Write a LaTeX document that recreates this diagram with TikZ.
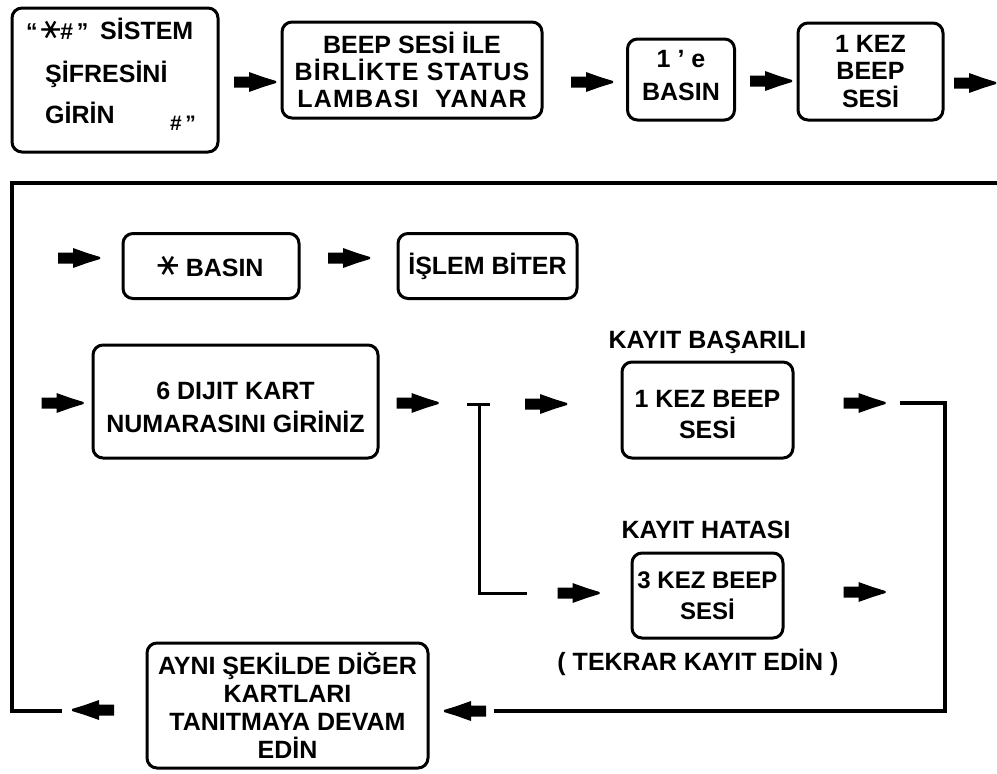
\documentclass[tikz,border=0pt]{standalone}
\usepackage{graphicx}
\usepackage{fontspec}
\setmainfont{Liberation Sans}
\newfontfamily\symfont{DejaVu Sans}
\newcommand{\astr}{{\symfont\mdseries\scalebox{1.3}{\rotatebox[origin=c]{90}{∗}}}}
\newcommand{\fs}[2]{\bfseries\fontsize{#1}{#2}\selectfont}
\newcommand{\hgt}[1]{\rule{0pt}{#1}}
\newcommand{\dpt}[1]{\rule[-#1]{0pt}{#1}}
\newcommand{\wide}{\addfontfeatures{LetterSpace=5}}
\tikzset{
  box/.style={draw, line width=3pt, rounded corners=10pt, inner sep=0pt, align=center, font=\fs{25}{27}},
  lbl/.style={inner sep=0pt, font=\fs{25}{27}},
  frameline/.style={line width=3.5pt, line cap=rect, line join=miter},
  brline/.style={line width=3pt},
  barrow/.pic={\fill (-21,-5.5) -- (-6,-5.5) -- (-6,-10) -- (8,-5) -- (21,-1) -- (21,1) -- (8,5) -- (-6,10) -- (-6,5.5) -- (-21,5.5) -- cycle;}
}
\begin{document}
\begin{tikzpicture}[x=1pt,y=-1pt]
\useasboundingbox[fill=white] (0,0) rectangle (997,774);

% row 1
\node[box, minimum width=206pt, minimum height=144pt] (A) at (115,80) {};
\node[lbl, anchor=base west, font=\fs{23}{23}] (a1) at (26,39) {“\,\astr\#\,”};
\node[lbl, anchor=base west] (a1b) at (100,39) {SİSTEM};
\node[lbl, anchor=base west] (a2) at (45,82) {ŞİFRESİNİ};
\node[lbl, anchor=base west] (a3) at (45,123) {GİRİN};
\node[lbl, anchor=base west, font=\fs{21}{21}] (a4) at (170,130) {\#\,”};

\node[box, minimum width=260pt, minimum height=96pt] (B) at (412,70) {BEEP SESİ İLE\\{\wide BİRLİKTE STATUS}\\{\wide LAMBASI\ \ YANAR}};
\node[box, minimum width=107pt, minimum height=81pt, font=\fs{25}{33}] (C) at (681,79.5) {1 ' e\\BASIN\dpt{8pt}};
\node[box, minimum width=145pt, minimum height=97pt, font=\fs{25}{27.5}] (D) at (870.5,71.5) {1 KEZ\\BEEP\\SESİ};

\pic (p1) at (255,82) {barrow};
\pic (p2) at (592,82) {barrow};
\pic (p3) at (771,81) {barrow};
\pic (p4) at (975,83) {barrow};

% frame
\coordinate (f1) at (997,183);
\coordinate (f2) at (12,183);
\coordinate (f3) at (12,711);
\coordinate (f4) at (60,711);
\draw[frameline] (f1) -- (f2) -- (f3) -- (f4);

% row 2
\pic (p5) at (79,258) {barrow};
\node[box, minimum width=176pt, minimum height=65pt] (E) at (211,266) {\astr\ BASIN};
\pic (p6) at (349,258) {barrow};
\node[box, minimum width=179pt, minimum height=65pt] (F) at (487.5,266) {İŞLEM BİTER};

% row 3
\pic (p7) at (62.5,403) {barrow};
\node[box, minimum width=285pt, minimum height=113pt, font=\fs{25}{33}] (G) at (235.5,401.5) {\hgt{30pt}6 DIJIT KART\\NUMARASINI GİRİNİZ};
\pic (p8) at (417.5,403) {barrow};

\coordinate (b1) at (467,404);
\coordinate (b2) at (490,404);
\coordinate (b3) at (479,404);
\coordinate (b4) at (479,593);
\coordinate (b5) at (527,593);
\draw[brline] (b1) -- (b2);
\draw[brline] (b3) -- (b4) -- (b5);

\pic (p9) at (546,404) {barrow};
\pic (p10) at (578.5,593) {barrow};

\node[lbl, anchor=base] (l1) at (707.5,348) {KAYIT BAŞARILI};
\node[box, minimum width=171pt, minimum height=96pt, font=\fs{25}{31}] (H) at (707.5,410) {\hgt{26pt}1 KEZ BEEP\\SESİ};
\node[lbl, anchor=base] (l2) at (706,538) {KAYIT HATASI};
\node[box, minimum width=151pt, minimum height=85pt, font=\fs{24}{31}] (I) at (707.5,595.5) {3 KEZ BEEP\\SESİ};
\node[lbl, anchor=base] (l3) at (698,670) {( TEKRAR KAYIT EDİN )};

\pic (p11) at (864.5,403) {barrow};
\pic (p12) at (864.5,592) {barrow};

\coordinate (r1) at (902,403);
\coordinate (r2) at (945,403);
\coordinate (r3) at (945,711);
\coordinate (r4) at (496,711);
\draw[frameline] (r1) -- (r2) -- (r3) -- (r4);

\pic[rotate=180] (p13) at (465,711) {barrow};
\node[box, minimum width=281pt, minimum height=125pt, font=\fs{25}{28}] (J) at (287.5,705.5) {AYNI ŞEKİLDE DİĞER\\KARTLARI\\TANITMAYA DEVAM\\EDİN};
\pic[rotate=180] (p14) at (93,710) {barrow};
\end{tikzpicture}
\end{document}
